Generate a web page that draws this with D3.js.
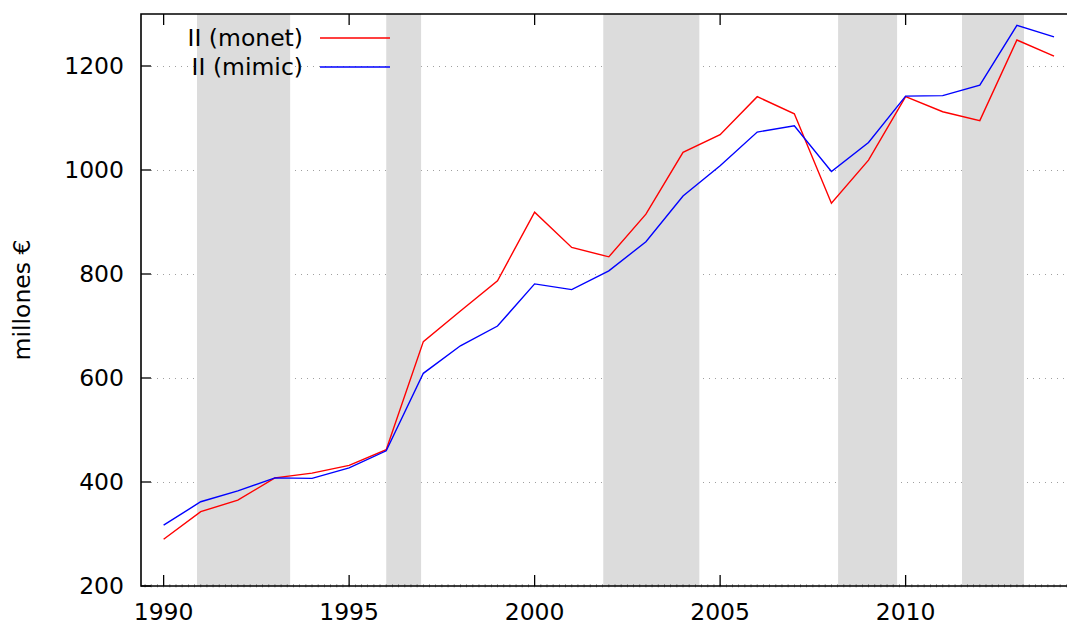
<!DOCTYPE html>
<html><head><meta charset="utf-8">
<script src="https://cdn.jsdelivr.net/npm/d3@7"></script>
<style>html,body{margin:0;padding:0;background:#fff;} svg{display:block;}</style>
</head><body>
<svg id="chart" width="1067" height="626"></svg>
<script>
const years = [1990,1991,1992,1993,1994,1995,1996,1997,1998,1999,2000,2001,2002,2003,2004,2005,2006,2007,2008,2009,2010,2011,2012,2013,2014];
const monet = [290,343,365,408,417,432,462,670,729,787,919,851,833,915,1034,1068,1141,1108,936,1019,1141,1112,1095,1250,1219];
const mimic = [317,362,383,408,407,427,460,609,662,700,781,770,806,862,950,1008,1073,1085,997,1053,1142,1143,1163,1278,1256];
const shadeStart = [1990.90,1996.00,2001.85,2008.18,2011.52];
const shadeEnd   = [1993.41,1996.94,2004.44,2009.77,2013.19];
const xTicks = [1990,1995,2000,2005,2010];
const yTicks = [200,400,600,800,1000,1200];
const seriesNames = ["II (monet)","II (mimic)"];
const seriesColors = ["#ff0000","#0000ff"];

(function(){
const svg = d3.select("#chart");
const pL = 141, pR = 1067, pT = 14, pB = 586;
const x = d3.scaleLinear().domain([1989.39, 2014.35]).range([pL, pR]);
const y = d3.scaleLinear().domain([200, 1300]).range([pB, pT]);
const font = "'DejaVu Sans', sans-serif";
const fs = 23.5;

// grid
svg.append("g").selectAll("line").data(yTicks.filter(d => d > 200)).join("line")
  .attr("x1", pL + 10).attr("x2", pR)
  .attr("y1", d => y(d) + 0.5).attr("y2", d => y(d) + 0.5)
  .attr("stroke", "#a0a0a0").attr("stroke-width", 1).attr("stroke-dasharray", "1,5");

// shades
svg.append("g").selectAll("rect").data(shadeStart.map((s, i) => [s, shadeEnd[i]])).join("rect")
  .attr("x", d => x(d[0])).attr("width", d => x(d[1]) - x(d[0]))
  .attr("y", pT).attr("height", pB - pT).attr("fill", "#dcdcdc");

// lines
const line = d3.line().x((d, i) => x(years[i])).y(d => y(d));
[monet, mimic].forEach((s, k) => {
  svg.append("path").datum(s).attr("d", line).attr("fill", "none")
    .attr("stroke", seriesColors[k]).attr("stroke-width", 1.4).attr("stroke-linejoin", "miter");
});

// frame
svg.append("path").attr("d", `M${pR},${pT}H${pL}V${pB}H${pR}`)
  .attr("fill", "none").attr("stroke", "#000").attr("stroke-width", 1.6);

// minor x ticks
const minor = d3.range(1989.5, 2014.4, 1/6);
svg.append("g").selectAll("line").data(minor).join("line")
  .attr("x1", d => x(d)).attr("x2", d => x(d)).attr("y1", pB - 2).attr("y2", pB + 1.5)
  .attr("stroke", "#000").attr("stroke-width", 0.6).attr("opacity", 0.6);

// major x ticks (bottom and top)
const xt = svg.append("g");
xTicks.forEach(t => {
  xt.append("line").attr("x1", x(t)).attr("x2", x(t)).attr("y1", pB).attr("y2", pB - 11)
    .attr("stroke", "#000").attr("stroke-width", 1.3);
  xt.append("line").attr("x1", x(t)).attr("x2", x(t)).attr("y1", pT).attr("y2", pT + 11)
    .attr("stroke", "#000").attr("stroke-width", 1.3);
  xt.append("text").attr("x", x(t)).attr("y", 620).attr("text-anchor", "middle")
    .attr("font-family", font).attr("font-size", fs).attr("fill", "#000").text(t);
});

// y ticks
const yt = svg.append("g");
yTicks.forEach(t => {
  yt.append("line").attr("x1", pL).attr("x2", pL + 10).attr("y1", y(t)).attr("y2", y(t))
    .attr("stroke", "#000").attr("stroke-width", 1.3);
  yt.append("text").attr("x", 124).attr("y", y(t)).attr("dy", "0.36em").attr("text-anchor", "end")
    .attr("font-family", font).attr("font-size", fs).attr("fill", "#000").text(t);
});

// y label
svg.append("text").attr("transform", "translate(30,300) rotate(-90)").attr("text-anchor", "middle")
  .attr("font-family", font).attr("font-size", fs).attr("fill", "#000").text("millones €");

// legend
const legY = [38, 67];
seriesNames.forEach((n, i) => {
  svg.append("text").attr("x", 303).attr("y", legY[i]).attr("dy", "0.36em").attr("text-anchor", "end")
    .attr("font-family", font).attr("font-size", fs).attr("fill", "#000").text(n);
  svg.append("line").attr("x1", 320).attr("x2", 390).attr("y1", legY[i]).attr("y2", legY[i])
    .attr("stroke", seriesColors[i]).attr("stroke-width", 1.4);
});
})();
</script>
</body></html>
